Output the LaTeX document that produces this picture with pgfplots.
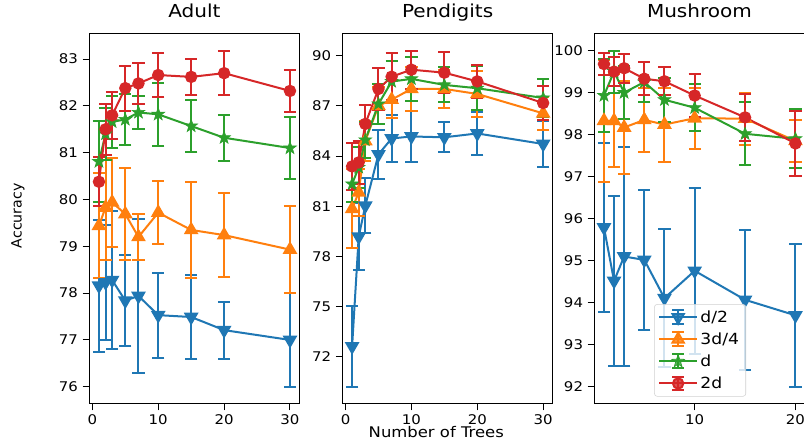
\documentclass[border=0pt]{standalone}
\usepackage{fontspec}
\setmainfont{DejaVu Sans}[FakeStretch=1.12]
\newfontfamily\plainfont{DejaVu Sans}
\usepackage{pgfplots}
\usepackage{pgfplotstable}
\pgfplotsset{compat=1.18}

\definecolor{c0}{HTML}{1F77B4}
\definecolor{c1}{HTML}{FF7F0E}
\definecolor{c2}{HTML}{2CA02C}
\definecolor{c3}{HTML}{D62728}

% filled five-pointed star, like matplotlib's '*'
\pgfdeclareplotmark{fstar}{%
  \pgfpathmoveto{\pgfpointpolar{90}{\pgfplotmarksize}}%
  \pgfpathlineto{\pgfpointpolar{126}{0.4\pgfplotmarksize}}%
  \pgfpathlineto{\pgfpointpolar{162}{\pgfplotmarksize}}%
  \pgfpathlineto{\pgfpointpolar{198}{0.4\pgfplotmarksize}}%
  \pgfpathlineto{\pgfpointpolar{234}{\pgfplotmarksize}}%
  \pgfpathlineto{\pgfpointpolar{270}{0.4\pgfplotmarksize}}%
  \pgfpathlineto{\pgfpointpolar{306}{\pgfplotmarksize}}%
  \pgfpathlineto{\pgfpointpolar{342}{0.4\pgfplotmarksize}}%
  \pgfpathlineto{\pgfpointpolar{18}{\pgfplotmarksize}}%
  \pgfpathlineto{\pgfpointpolar{54}{0.4\pgfplotmarksize}}%
  \pgfpathclose
  \pgfusepathqfillstroke
}

% accuracy (y) and std (e) vs number of trees
\pgfplotstableread{
x y e
1 78.16 1.41
2 78.23 1.23
3 78.28 1.48
5 77.84 0.97
7 77.94 1.64
10 77.53 0.91
15 77.49 0.90
20 77.21 0.61
30 77.00 1.00
}\adultA
\pgfplotstableread{
x y e
1 79.44 1.12
2 79.83 1.12
3 79.94 0.95
5 79.69 0.98
7 79.20 0.49
10 79.72 0.67
15 79.35 1.02
20 79.24 0.89
30 78.93 0.93
}\adultB
\pgfplotstableread{
x y e
1 80.81 0.86
2 81.40 0.56
3 81.66 0.55
5 81.71 0.54
7 81.86 0.35
10 81.82 0.68
15 81.57 0.55
20 81.32 0.49
30 81.10 0.67
}\adultC
\pgfplotstableread{
x y e
1 80.38 0.52
2 81.50 0.55
3 81.80 0.50
5 82.38 0.48
7 82.48 0.43
10 82.66 0.47
15 82.62 0.39
20 82.70 0.47
30 82.32 0.44
}\adultD

\pgfplotstableread{
x y e
1 72.63 2.40
2 79.18 2.00
3 81.03 1.63
5 84.10 1.45
7 85.05 1.43
10 85.17 1.55
15 85.12 0.90
20 85.35 1.28
30 84.72 1.40
}\penA
\pgfplotstableread{
x y e
1 80.84 2.36
2 81.83 1.40
3 84.90 1.20
5 87.00 1.10
7 87.37 1.10
10 88.01 1.30
15 88.01 1.16
20 87.71 1.40
30 86.55 1.00
}\penB
\pgfplotstableread{
x y e
1 82.33 1.10
2 83.32 1.20
3 84.96 1.10
5 87.11 1.20
7 88.45 1.20
10 88.61 1.33
15 88.25 1.05
20 88.05 1.30
30 87.47 1.13
}\penC
\pgfplotstableread{
x y e
1 83.38 1.40
2 83.62 1.30
3 85.92 1.15
5 88.01 1.27
7 88.74 1.40
10 89.16 1.14
15 88.98 1.22
20 88.46 1.00
30 87.17 1.02
}\penD

\pgfplotstableread{
x y e
1 95.79 2.00
2 94.52 2.02
3 95.10 2.60
5 95.02 1.67
7 94.11 1.65
10 94.76 1.98
15 94.07 1.67
20 93.70 1.70
}\mushA
\pgfplotstableread{
x y e
1 98.33 1.45
2 98.33 1.11
3 98.17 1.11
5 98.35 0.77
7 98.24 0.88
10 98.39 0.72
15 98.38 0.62
20 97.85 0.50
}\mushB
\pgfplotstableread{
x y e
1 98.93 0.87
2 99.50 0.50
3 99.00 0.63
5 99.25 0.48
7 98.83 0.52
10 98.64 0.56
15 98.02 0.75
20 97.90 0.70
}\mushC
\pgfplotstableread{
x y e
1 99.68 0.27
2 99.50 0.35
3 99.58 0.34
5 99.33 0.39
7 99.27 0.33
10 98.93 0.51
15 98.41 0.56
20 97.79 0.78
}\mushD

\pgfplotsset{
  base/.style={
    scale only axis, width=157.5pt, height=277.5pt,
    axis line style={line width=0.75pt},
    tick align=outside, major tick length=5pt,
    tick style={black, line width=0.75pt},
    xtick pos=left, ytick pos=left,
    tick label style={font=\fontsize{10}{12}\selectfont},
    /pgf/number format/assume math mode=true,
    title style={font=\fontsize{13.4}{16}\selectfont, anchor=base,
      at={(axis description cs:0.5,1)}, yshift=5.8pt},
    xmin=-0.45, xmax=31.45, xtick={0,10,20,30},
  },
  eb/.style={
    line width=1.5pt,
    error bars/y dir=both, error bars/y explicit,
    error bars/error bar style={line width=1.5pt},
    error bars/error mark options={rotate=90, line width=1.5pt, mark size=4.6pt},
  },
  s0/.style={c0, eb, mark=triangle*, mark size=4.9pt, mark options={rotate=180, fill=c0}},
  s1/.style={c1, eb, mark=triangle*, mark size=4.9pt, mark options={fill=c1}},
  s2/.style={c2, eb, mark=fstar, mark size=5pt, mark options={fill=c2, line width=0.5pt}},
  s3/.style={c3, eb, mark=*, mark size=3.9pt, mark options={fill=c3}},
}

\begin{document}
\begin{tikzpicture}
\begin{axis}[base, title={Adult},
  ymin=75.64, ymax=83.55, ytick={76,77,...,83},
  ylabel={Accuracy},
  ylabel style={at={(axis description cs:-0.34,0.507)}, anchor=center,
    font=\plainfont\fontsize{10.6}{12}\selectfont}]
\addplot[s0] table[x=x, y=y, y error=e] {\adultA};
\addplot[s1] table[x=x, y=y, y error=e] {\adultB};
\addplot[s2] table[x=x, y=y, y error=e] {\adultC};
\addplot[s3] table[x=x, y=y, y error=e] {\adultD};
\end{axis}

\begin{axis}[base, xshift=189.75pt, title={Pendigits},
  ymin=69.21, ymax=91.33, ytick={72,75,...,90},
  xlabel={Number of Trees},
  xlabel style={at={(axis description cs:0.446,-0.078)}, anchor=center,
    font=\fontsize{11}{13}\selectfont}]
\addplot[s0] table[x=x, y=y, y error=e] {\penA};
\addplot[s1] table[x=x, y=y, y error=e] {\penB};
\addplot[s2] table[x=x, y=y, y error=e] {\penC};
\addplot[s3] table[x=x, y=y, y error=e] {\penD};
\end{axis}

\begin{axis}[base, xshift=378.5pt, title={Mushroom},
  xmin=0.05, xmax=20.9, xtick={10,20},
  ymin=91.6, ymax=100.41, ytick={92,93,...,100},
  legend cell align=left,
  legend style={at={(0.503,0.019)}, anchor=south,
    font=\fontsize{11.5}{13}\selectfont,
    draw=black!18, rounded corners=2pt, fill=white, fill opacity=0.8,
    text opacity=1, row sep=2.3pt, inner xsep=3pt, inner ysep=2.5pt},
  legend image code/.code={%
    \draw[#1, mark=none] (0pt,0pt) -- (28pt,0pt);
    \draw[#1, mark=none] (14pt,-5.2pt) -- (14pt,5.2pt) (9.4pt,-5.2pt) -- (18.6pt,-5.2pt) (9.4pt,5.2pt) -- (18.6pt,5.2pt);
    \draw[#1, only marks] plot coordinates {(14pt,0pt)};
  }]
\addplot[s0] table[x=x, y=y, y error=e] {\mushA};
\addplot[s1] table[x=x, y=y, y error=e] {\mushB};
\addplot[s2] table[x=x, y=y, y error=e] {\mushC};
\addplot[s3] table[x=x, y=y, y error=e] {\mushD};
\legend{d/2, 3d/4, d, 2d}
\end{axis}

\pgfresetboundingbox
\useasboundingbox (-67pt,-27.5pt) rectangle (535.6pt,302.5pt);
\end{tikzpicture}
\end{document}
